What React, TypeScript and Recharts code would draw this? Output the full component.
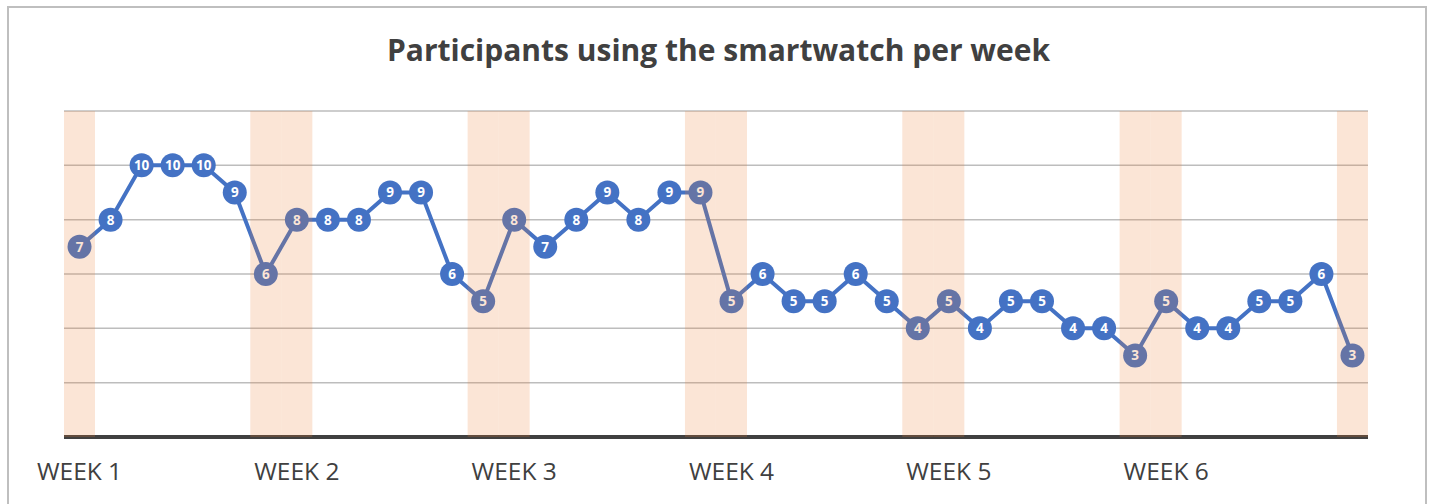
import React from 'react';
import { ComposedChart, Line, Bar, XAxis, YAxis, CartesianGrid } from 'recharts';

const participants = [
  7, 8, 10, 10, 10, 9, 6, 8, 8, 8, 9, 9, 6, 5, 8, 7, 8, 9, 8, 9, 9,
  5, 6, 5, 5, 6, 5, 4, 5, 4, 5, 5, 4, 4, 3, 5, 4, 4, 5, 5, 6, 3,
];
const weekendDays = [0, 6, 7, 13, 14, 20, 21, 27, 28, 34, 35, 41];
const weekStartDays = [0, 7, 14, 21, 28, 35];
const weekLabels = ['WEEK 1', 'WEEK 2', 'WEEK 3', 'WEEK 4', 'WEEK 5', 'WEEK 6'];
const yTicks = [0, 2, 4, 6, 8, 10, 12];
const bandTop = 12;

const data = participants.map((v, i) => ({
  day: i,
  participants: v,
  weekend: weekendDays.includes(i) ? bandTop : null,
}));

const FONT = "'Open Sans', 'Liberation Sans', sans-serif";
const BLUE = '#4472C4';
const TEXT = '#404040';
const W = 1429;
const H = 504;

const renderDot = (props: any) => {
  const { cx, cy, value, index } = props;
  if (cx == null || cy == null) return <g key={`d${index}`} />;
  return (
    <g key={`d${index}`}>
      <circle cx={cx} cy={cy} r={12} fill={BLUE} />
      <text
        x={cx}
        y={cy}
        dy="0.36em"
        textAnchor="middle"
        fill="#FFFFFF"
        fontFamily={FONT}
        fontWeight={700}
        fontSize={13.5}
      >
        {value}
      </text>
    </g>
  );
};

const weekTick = (v: number) => {
  const k = weekStartDays.indexOf(v);
  return k >= 0 ? weekLabels[k] : '';
};

export default function App() {
  return (
    <div style={{ position: 'absolute', left: 0, top: 0, width: W, height: H, overflow: 'hidden', background: '#FFFFFF' }}>
      <div
        style={{
          position: 'absolute',
          left: 7,
          top: 6,
          width: 1416,
          height: 520,
          border: '2px solid #BFBFBF',
          boxSizing: 'content-box',
        }}
      />
      <div
        style={{
          position: 'absolute',
          left: 2,
          width: 1433,
          top: 30,
          textAlign: 'center',
          fontFamily: FONT,
          fontWeight: 700,
          fontSize: 30,
          color: TEXT,
          lineHeight: '40px',
          whiteSpace: 'nowrap',
        }}
      >
        Participants using the smartwatch per week
      </div>
      <div style={{ position: 'absolute', left: 0, top: 0 }}>
        <ComposedChart
          width={W}
          height={H}
          data={data}
          margin={{ top: 111, right: 61, left: 64, bottom: 37 }}
        >
          <CartesianGrid vertical={false} stroke="#BDBDBD" strokeWidth={1.5} />
          <YAxis hide domain={[0, 12]} ticks={yTicks} />
          <XAxis
            dataKey="day"
            type="category"
            scale="band"
            height={30}
            ticks={weekStartDays}
            interval={0}
            tickFormatter={weekTick}
            tickLine={false}
            tickMargin={20}
            axisLine={{ stroke: TEXT, strokeWidth: 4 }}
            tick={{ fill: TEXT, fontSize: 24.5, fontFamily: FONT }}
          />
          <Line
            dataKey="participants"
            stroke={BLUE}
            strokeWidth={4}
            dot={renderDot}
            activeDot={false}
            isAnimationActive={false}
          />
        </ComposedChart>
      </div>
      <div style={{ position: 'absolute', left: 0, top: 0 }}>
        <ComposedChart
          width={W}
          height={H}
          data={data}
          margin={{ top: 111, right: 61, left: 64, bottom: 67 }}
          barCategoryGap={0}
          barGap={0}
        >
          <YAxis hide domain={[0, 12]} ticks={yTicks} />
          <XAxis hide dataKey="day" type="category" scale="band" />
          <Bar
            dataKey="weekend"
            fill="#ED7D31"
            fillOpacity={0.2}
            isAnimationActive={false}
          />
        </ComposedChart>
      </div>
    </div>
  );
}
